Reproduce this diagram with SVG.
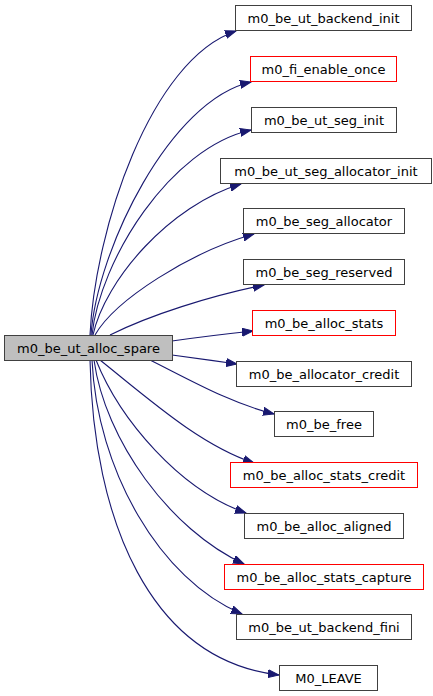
<svg xmlns="http://www.w3.org/2000/svg" width="433" height="696" viewBox="0 0 433 696">
<style>
.n rect{fill:#ffffff;stroke:#404040;stroke-width:1}
.n.r rect{stroke:#ff0000}
.n.m rect{fill:#bfbfbf;stroke:#404040}
.n text{font-family:"DejaVu Sans",sans-serif;font-size:13px;fill:#000;text-anchor:middle}
.e path{fill:none;stroke:#191970;stroke-width:1.1;marker-end:url(#ah)}
</style>
<defs>
<marker id="ah" markerUnits="userSpaceOnUse" markerWidth="12" markerHeight="9" refX="11" refY="4.5" orient="auto">
<path d="M0,0.5 L11,4.5 L0,8.5 z" fill="#191970" stroke="#191970" stroke-width="1"/>
</marker>
</defs>
<rect width="433" height="696" fill="#ffffff"/>
<g id="edges" class="e">
<path d="M90,335 C95,230 150,60 236,31"/>
<path d="M91,335 C97,250 170,100 251,82"/>
<path d="M92,335 C100,260 170,148 251,130"/>
<path d="M93,335 C105,280 170,205 241,184"/>
<path d="M95,335 C115,300 190,252 254,234"/>
<path d="M110,335 C150,315 210,296 264,285"/>
<path d="M172,341 C200,337 225,334 253,331"/>
<path d="M172,355 C195,358 215,361 237,364"/>
<path d="M150,360 C190,380 230,403 274,414"/>
<path d="M100,360 C150,400 200,445 254,463"/>
<path d="M96,360 C120,420 180,490 246,513"/>
<path d="M94,360 C105,440 170,530 244,564"/>
<path d="M92,360 C97,470 160,580 242,614"/>
<path d="M90,360 C93,520 150,660 279,675"/>
</g>
<g id="node_main" class="n m"><rect x="4.5" y="335.5" width="168" height="25"/><text x="88.5" y="352.5">m0_be_ut_alloc_spare</text></g>
<g id="node_backend_init" class="n"><rect x="235.5" y="5.5" width="176" height="25"/><text x="323.5" y="22.5">m0_be_ut_backend_init</text></g>
<g id="node_fi_enable_once" class="n r"><rect x="250.5" y="56.5" width="146" height="25"/><text x="323.5" y="73.5">m0_fi_enable_once</text></g>
<g id="node_seg_init" class="n"><rect x="251.5" y="107.5" width="145" height="25"/><text x="324" y="124.5">m0_be_ut_seg_init</text></g>
<g id="node_seg_allocator_init" class="n"><rect x="220.5" y="158.5" width="211" height="25"/><text x="326" y="175.5">m0_be_ut_seg_allocator_init</text></g>
<g id="node_seg_allocator" class="n"><rect x="243.5" y="208.5" width="161" height="25"/><text x="324" y="225.5">m0_be_seg_allocator</text></g>
<g id="node_seg_reserved" class="n"><rect x="243.5" y="259.5" width="161" height="25"/><text x="324" y="276.5">m0_be_seg_reserved</text></g>
<g id="node_alloc_stats" class="n r"><rect x="252.5" y="310.5" width="143" height="25"/><text x="324" y="327.5">m0_be_alloc_stats</text></g>
<g id="node_allocator_credit" class="n"><rect x="236.5" y="361.5" width="175" height="25"/><text x="324" y="378.5">m0_be_allocator_credit</text></g>
<g id="node_free" class="n"><rect x="274.5" y="411.5" width="99" height="25"/><text x="324" y="428.5">m0_be_free</text></g>
<g id="node_alloc_stats_credit" class="n r"><rect x="230.5" y="462.5" width="187" height="25"/><text x="324" y="479.5">m0_be_alloc_stats_credit</text></g>
<g id="node_alloc_aligned" class="n"><rect x="244.5" y="513.5" width="159" height="25"/><text x="324" y="530.5">m0_be_alloc_aligned</text></g>
<g id="node_alloc_stats_capture" class="n r"><rect x="224.5" y="564.5" width="199" height="25"/><text x="324" y="581.5">m0_be_alloc_stats_capture</text></g>
<g id="node_backend_fini" class="n"><rect x="236.5" y="614.5" width="175" height="25"/><text x="324" y="631.5">m0_be_ut_backend_fini</text></g>
<g id="node_leave" class="n"><rect x="279.5" y="665.5" width="98" height="25"/><text x="328.5" y="682.5">M0_LEAVE</text></g>
</svg>
